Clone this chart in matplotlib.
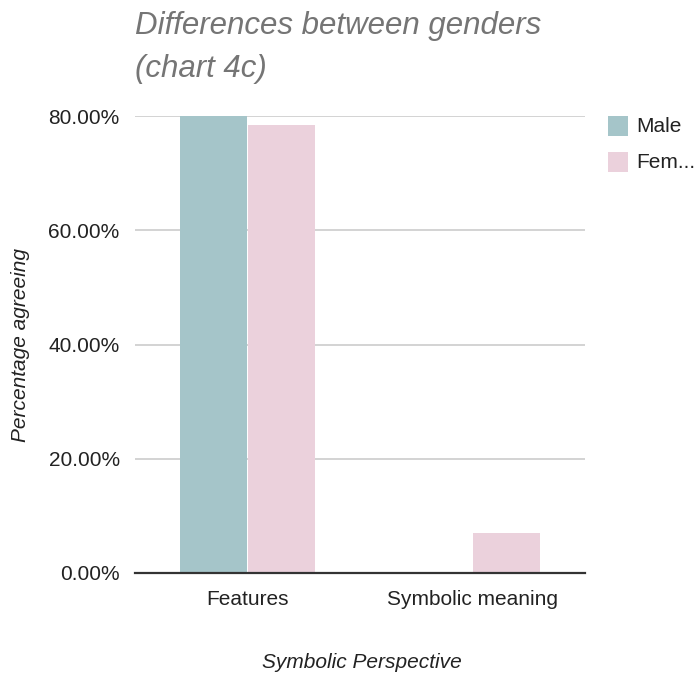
import matplotlib
matplotlib.use("Agg")
import matplotlib.pyplot as plt
import numpy as np
from matplotlib.patches import Rectangle

categories = ["Features", "Symbolic meaning"]
male = [80.0, 0.0]
female = [78.4, 7.0]
series_names = ["Male", "Fem..."]
yticks = [0, 20, 40, 60, 80]
ytick_labels = ["0.00%", "20.00%", "40.00%", "60.00%", "80.00%"]

male_color = "#a5c5c9"
female_color = "#ebd1dc"

plt.rcParams['font.family'] = ['Liberation Sans', 'DejaVu Sans']

W, H = 697, 679
fig = plt.figure(figsize=(W / 100, H / 100), dpi=100)
ax = fig.add_axes([135 / W, (H - 573) / H, 450 / W, (573 - 116) / H])

x = np.arange(len(categories))
bw = 0.30
off = 0.152
ax.bar(x - off, male, width=bw, color=male_color, zorder=3)
ax.bar(x + off, female, width=bw, color=female_color, zorder=3)

ax.set_xlim(-0.5, len(categories) - 0.5)
ax.set_ylim(0, 80)
ax.set_yticks(yticks)
ax.set_yticklabels(ytick_labels)
ax.set_xticks(x)
ax.set_xticklabels(categories)
ax.tick_params(axis='both', length=0, labelsize=15, colors="#222222")
ax.tick_params(axis='y', pad=11)
ax.tick_params(axis='x', pad=12)
for s in ax.spines.values():
    s.set_visible(False)
ax.grid(axis='y', color="#cccccc", linewidth=1.2, zorder=0)
ax.set_axisbelow(True)
ax.axhline(0, color="#333333", linewidth=1.6, zorder=4, clip_on=False)

ax.set_ylabel("Percentage agreeing", fontsize=15, style='italic', color="#222222")
ax.yaxis.label.set_va('center')
ax.yaxis.set_label_coords((20 - 135) / 450, 0.5)
ax.set_xlabel("Symbolic Perspective", fontsize=15, style='italic', color="#222222")
ax.xaxis.label.set_va('center')
ax.xaxis.set_label_coords((362 - 135) / 450, -(662 - 573) / 457)

fig.text(135 / W, 1 - 11 / H, "Differences between genders\n(chart 4c)", fontsize=22.5,
         style='italic', color="#757575", ha='left', va='top', linespacing=1.55)

# legend
for i, (name, col) in enumerate(zip(series_names, [male_color, female_color])):
    y0 = 116 + i * 36
    fig.patches.append(Rectangle((608 / W, 1 - (y0 + 20) / H), 20 / W, 20 / H,
                                 transform=fig.transFigure, facecolor=col, edgecolor='none'))
    fig.text(636 / W, 1 - (y0 + 11) / H, name, fontsize=15, color="#222222",
             ha='left', va='center')

fig.savefig("out.png", dpi=100)
